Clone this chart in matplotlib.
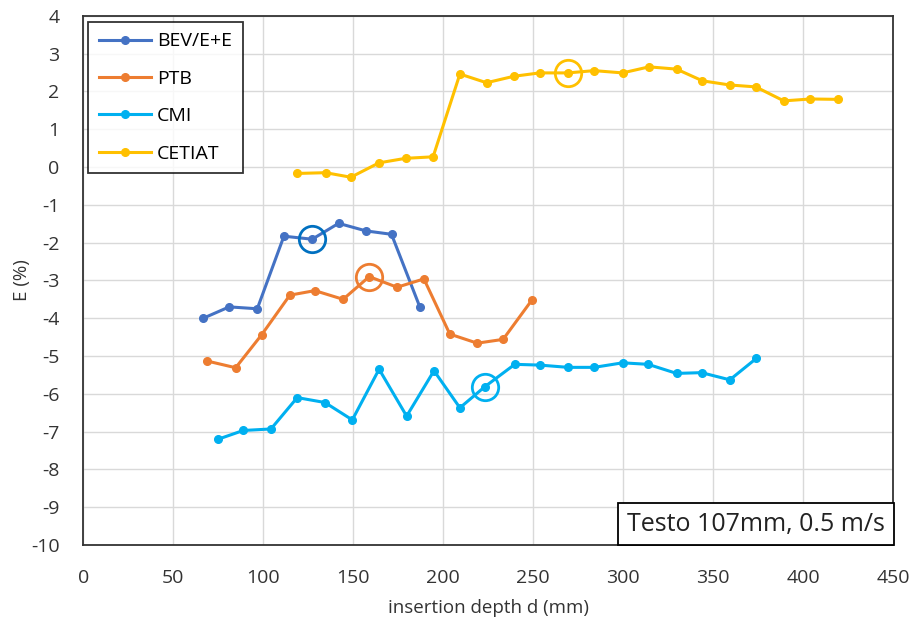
import numpy as np
import matplotlib.pyplot as plt

plt.rcParams['font.family'] = ['Open Sans', 'DejaVu Sans']
plt.rcParams['axes.unicode_minus'] = False

# data
bev_x = [66.7, 81.1, 96.7, 111.5, 127.2, 141.9, 157.1, 171.3, 187.1]
bev_y = [-4.00, -3.70, -3.75, -1.83, -1.91, -1.49, -1.69, -1.78, -3.71]

ptb_x = [68.6, 84.7, 99.1, 114.8, 128.7, 144.4, 158.9, 174.4, 189.3, 203.7, 218.9, 233.3, 249.3]
ptb_y = [-5.13, -5.31, -4.44, -3.39, -3.27, -3.50, -2.90, -3.18, -2.96, -4.42, -4.66, -4.56, -3.52]

cmi_x = [75.0, 88.9, 104.3, 118.9, 134.3, 149.5, 164.4, 179.7, 194.9, 209.3, 223.2,
         239.8, 253.7, 269.4, 283.9, 299.7, 313.9, 329.7, 343.6, 359.3, 374.1]
cmi_y = [-7.20, -6.97, -6.93, -6.10, -6.23, -6.69, -5.35, -6.59, -5.39, -6.37, -5.81,
         -5.22, -5.24, -5.30, -5.30, -5.18, -5.22, -5.46, -5.44, -5.63, -5.06]

cet_x = [118.9, 134.7, 148.7, 164.3, 179.1, 194.4, 209.3, 224.1, 239.2, 253.6, 269.4,
         283.9, 299.7, 314.4, 329.7, 344.1, 359.3, 373.7, 389.3, 404.1, 419.4]
cet_y = [-0.17, -0.15, -0.27, 0.11, 0.23, 0.27, 2.46, 2.23, 2.40, 2.49, 2.49,
         2.55, 2.49, 2.65, 2.59, 2.28, 2.17, 2.12, 1.75, 1.80, 1.79]

# highlighted (circled) point index for each series
series = [
    ('BEV/E+E', bev_x, bev_y, '#4472C4', '#0070C0', 4),
    ('PTB', ptb_x, ptb_y, '#ED7D31', '#ED7D31', 6),
    ('CMI', cmi_x, cmi_y, '#00B0F0', '#00B0F0', 10),
    ('CETIAT', cet_x, cet_y, '#FFC000', '#FFC000', 10),
]

fig = plt.figure(figsize=(9.15, 6.33), dpi=100)
ax = fig.add_axes([0.091, 0.139, 0.885, 0.836])

for name, xs, ys, col, ccol, k in series:
    ax.plot(xs, ys, color=col, lw=2.2, marker='o', ms=5.5, label=name, zorder=3)
    ax.plot(xs[k], ys[k], marker='o', ms=19, mfc='none', mec=ccol, mew=2.0,
            ls='none', zorder=4)

ax.set_xlim(0, 450)
ax.set_ylim(-10, 4)
ax.set_xticks(np.arange(0, 451, 50))
ax.set_yticks(np.arange(-10, 5, 1))
ax.grid(color='#D9D9D9', lw=1, zorder=0)
ax.tick_params(length=0, labelsize=14, labelcolor='#333333')
ax.tick_params(axis='x', pad=17)
ax.tick_params(axis='y', pad=17)
for s in ax.spines.values():
    s.set_color('#333333')
    s.set_linewidth(1.3)

ax.set_xlabel('insertion depth d (mm)', fontsize=13.5, color='#333333', labelpad=9)
ax.set_ylabel('E (%)', fontsize=13.5, color='#333333', labelpad=0)

leg = ax.legend(loc='upper left', bbox_to_anchor=(0.006, 0.989), borderaxespad=0,
                fontsize=14, frameon=True, fancybox=False, handlelength=2.7,
                handletextpad=0.3, labelspacing=1.0, borderpad=0.55)
leg.get_frame().set_edgecolor('black')
leg.get_frame().set_linewidth(1.3)

ax.text(0.99, 0.016, 'Testo 107mm, 0.5 m/s', transform=ax.transAxes,
        ha='right', va='bottom', fontsize=18, color='#222222', zorder=5,
        bbox=dict(boxstyle='square,pad=0.35', fc='white', ec='black', lw=1.3))

fig.savefig('out.png', dpi=100)
